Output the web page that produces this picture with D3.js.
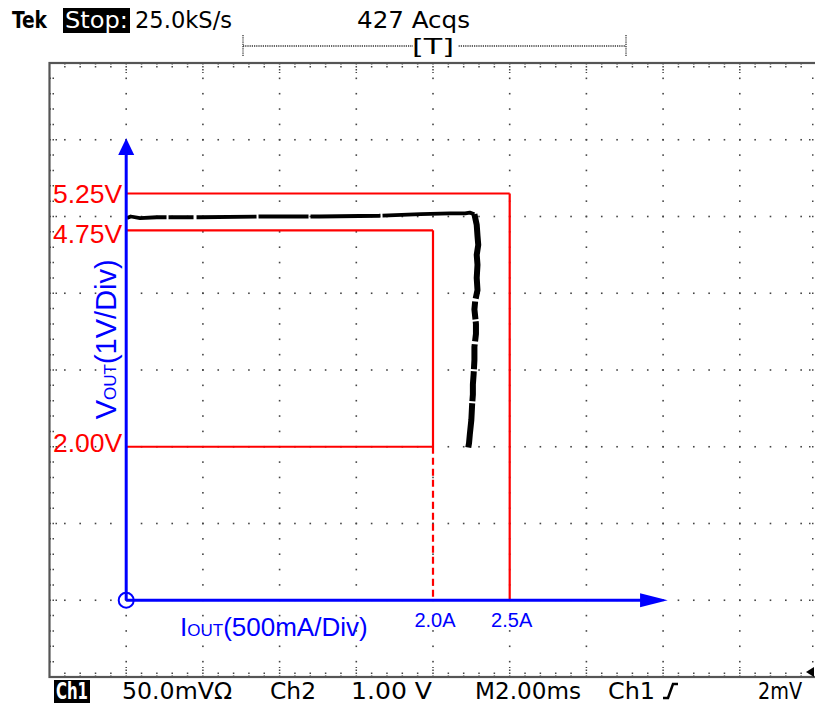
<!DOCTYPE html>
<html>
<head>
<meta charset="utf-8">
<script src="https://cdn.jsdelivr.net/npm/d3@7"></script>
<style>
  body { margin: 0; background: #fff; }
  svg { display: block; }
  .scope { font-family: "DejaVu Sans Condensed", "DejaVu Sans", sans-serif; font-stretch: condensed; }
  .anno { font-family: "Liberation Sans", Arial, sans-serif; }
</style>
</head>
<body>
<svg id="chart" width="815" height="703"></svg>
<script>
// graticule
const divsX = 10;
const divsY = 8;
const minorPerDiv = 5;

// scope readouts (top and bottom rows)
const headerTexts = ['Tek', 'Stop:', '25.0kS/s', '427 Acqs'];
const footerTexts = ['Ch1', '50.0mVΩ', 'Ch2', '1.00 V', 'M2.00ms', 'Ch1', '2mV'];

// annotation: current axis marks (A) and voltage limits (V)
const currentLabels = ['2.0A', '2.5A'];
const currentValues = [2.0, 2.5];
const voltLabels = ['5.25V', '4.75V', '2.00V'];
const voltLevels = [5.30, 4.82, 2.00]; // where the lines sit in the picture

// captured trace, [I (A), Vout (V)]
const traceTop = [
  [0.005, 4.98], [0.03, 5.00], [0.09, 4.98], [0.2, 4.99], [0.48, 4.99],
  [0.87, 5.00], [1.26, 5.00], [1.65, 5.01], [1.92, 5.03], [2.11, 5.04],
  [2.21, 5.04], [2.24, 5.05], [2.27, 5.03]
];
const traceSide = [
  [2.27, 5.03], [2.285, 4.89], [2.29, 4.75], [2.295, 4.63], [2.285, 4.5],
  [2.29, 4.37], [2.285, 4.2], [2.29, 4.04], [2.275, 3.9], [2.27, 3.79],
  [2.28, 3.6], [2.28, 3.47], [2.27, 3.3], [2.27, 3.13], [2.265, 2.95],
  [2.26, 2.81], [2.26, 2.68], [2.255, 2.55], [2.25, 2.35], [2.24, 2.16],
  [2.235, 2.05], [2.23, 1.99]
];

const svg = d3.select('#chart');

// screen divisions
const gx = d3.scaleLinear().domain([0, divsX]).range([49.5, 816.5]);
const gy = d3.scaleLinear().domain([0, divsY]).range([63, 677]);
// 500mA/div with 0A on the 1st vertical line, 1V/div with 0V on the 7th horizontal line
const xA = d3.scaleLinear().domain([0, 0.5]).range([gx(1), gx(2)]);
const yV = d3.scaleLinear().domain([0, 1]).range([gy(7), gy(6)]);

const RED = '#ff0000';
const BLUE = '#0000ff';
const DOT = '#444';

// Graticule dots
const grid = svg.append('g').attr('fill', DOT);
const minorY = d3.range(0, divsY * minorPerDiv + 1).map((i) => i / minorPerDiv);
const minorX = d3.range(0, divsX * minorPerDiv + 1).map((i) => i / minorPerDiv);
d3.range(1, divsX).forEach((c) => {
  grid.selectAll(null)
    .data(minorY.slice(1, -1))
    .join('rect')
    .attr('x', gx(c) - 0.8)
    .attr('y', (d) => gy(d) - 0.8)
    .attr('width', 1.6)
    .attr('height', 1.6);
});
d3.range(1, divsY).forEach((r) => {
  grid.selectAll(null)
    .data(minorX.slice(1, -1))
    .join('rect')
    .attr('x', (d) => gx(d) - 0.8)
    .attr('y', gy(r) - 0.8)
    .attr('width', 1.6)
    .attr('height', 1.6);
});

// frame ticks
const ticks = svg.append('g')
  .attr('stroke', DOT)
  .attr('stroke-width', 1.5)
  .attr('stroke-dasharray', '1.5 1.5');
ticks.selectAll('.tt')
  .data(minorX.slice(1, -1))
  .join('line')
  .attr('x1', (d) => gx(d))
  .attr('x2', (d) => gx(d))
  .attr('y1', gy(0))
  .attr('y2', (d) => gy(0) + (Number.isInteger(d) ? 10 : 5));
ticks.selectAll('.tb')
  .data(minorX.slice(1, -1))
  .join('line')
  .attr('x1', (d) => gx(d))
  .attr('x2', (d) => gx(d))
  .attr('y1', gy(divsY))
  .attr('y2', (d) => gy(divsY) - (Number.isInteger(d) ? 10 : 5));
ticks.selectAll('.tl')
  .data(minorY.slice(1, -1))
  .join('line')
  .attr('y1', (d) => gy(d))
  .attr('y2', (d) => gy(d))
  .attr('x1', gx(0))
  .attr('x2', (d) => gx(0) + (Number.isInteger(d) ? 8 : 5));
ticks.selectAll('.tr')
  .data(minorY.slice(1, -1))
  .join('line')
  .attr('y1', (d) => gy(d))
  .attr('y2', (d) => gy(d))
  .attr('x1', gx(divsX))
  .attr('x2', (d) => gx(divsX) - (Number.isInteger(d) ? 8 : 5));

// frame
svg.append('rect')
  .attr('x', gx(0))
  .attr('y', gy(0))
  .attr('width', gx(divsX) - gx(0))
  .attr('height', gy(divsY) - gy(0))
  .attr('fill', 'none')
  .attr('stroke', '#555')
  .attr('stroke-width', 2.2);

// Red limit box lines
const limits = svg.append('g').attr('stroke', RED).attr('stroke-width', 2.2).attr('fill', 'none');
const seg = (x1, y1, x2, y2) =>
  limits.append('line').attr('x1', x1).attr('y1', y1).attr('x2', x2).attr('y2', y2);
// outer box: 5.25V / 2.5A
seg(xA(0), yV(voltLevels[0]), xA(currentValues[1]), yV(voltLevels[0]));
seg(xA(currentValues[1]), yV(voltLevels[0]), xA(currentValues[1]), yV(0));
// inner box: 4.75V .. 2.00V / 2.0A
seg(xA(0), yV(voltLevels[1]), xA(currentValues[0]), yV(voltLevels[1]));
seg(xA(currentValues[0]), yV(voltLevels[1]), xA(currentValues[0]), yV(voltLevels[2]));
seg(xA(0), yV(voltLevels[2]), xA(currentValues[0]), yV(voltLevels[2]));
seg(xA(currentValues[0]), yV(voltLevels[2]), xA(currentValues[0]), yV(0))
  .attr('stroke-dasharray', '7 4');

// Trace
const line = d3.line().x((d) => xA(d[0])).y((d) => yV(d[1])).curve(d3.curveLinear);
svg.append('path')
  .datum(traceTop)
  .attr('d', line)
  .attr('fill', 'none')
  .attr('stroke', '#000')
  .attr('stroke-width', 3.8)
  .attr('stroke-linejoin', 'round')
  .attr('stroke-dasharray', '40 2 25 3 60 2 50 2 70 2 200');
svg.append('path')
  .datum(traceSide)
  .attr('d', line)
  .attr('fill', 'none')
  .attr('stroke', '#000')
  .attr('stroke-width', 6)
  .attr('stroke-linejoin', 'round')
  .attr('stroke-dasharray', '85 3 18 2 20 3 25 2 30 2 200');

// Blue axes
const axes = svg.append('g');
axes.append('line')
  .attr('x1', xA(0)).attr('x2', xA(0))
  .attr('y1', yV(0)).attr('y2', yV(5.9))
  .attr('stroke', BLUE).attr('stroke-width', 3);
axes.append('path')
  .attr('d', `M${xA(0) - 8},${yV(5.8)} L${xA(0)},${yV(6.02)} L${xA(0) + 8},${yV(5.8)} Z`)
  .attr('fill', BLUE);
axes.append('line')
  .attr('x1', xA(0)).attr('x2', xA(3.4))
  .attr('y1', yV(0)).attr('y2', yV(0))
  .attr('stroke', BLUE).attr('stroke-width', 3);
axes.append('path')
  .attr('d', `M${xA(3.35)},${yV(0) - 7} L${xA(3.53)},${yV(0)} L${xA(3.35)},${yV(0) + 7} Z`)
  .attr('fill', BLUE);
axes.append('circle')
  .attr('cx', xA(0)).attr('cy', yV(0)).attr('r', 7.5)
  .attr('fill', 'none').attr('stroke', BLUE).attr('stroke-width', 2);

// Voltage labels
svg.append('g')
  .attr('class', 'anno')
  .selectAll('text')
  .data(voltLabels)
  .join('text')
  .attr('x', xA(0) - 4)
  .attr('y', (d, i) => yV(voltLevels[i]) + (i === 0 ? 9.5 : i === 1 ? 13 : 5))
  .attr('text-anchor', 'end')
  .attr('font-size', 26.5)
  .attr('fill', RED)
  .text((d) => d);

// Current labels
svg.append('g')
  .attr('class', 'anno')
  .selectAll('text')
  .data(currentLabels)
  .join('text')
  .attr('x', (d, i) => xA(currentValues[i]) + 2)
  .attr('y', yV(0) + 27)
  .attr('text-anchor', 'middle')
  .attr('font-size', 20)
  .attr('fill', BLUE)
  .text((d) => d);

// Axis titles
const xTitle = svg.append('text')
  .attr('class', 'anno')
  .attr('x', 180)
  .attr('y', yV(0) + 36)
  .attr('font-size', 26)
  .attr('fill', BLUE);
xTitle.append('tspan').text('I');
xTitle.append('tspan').attr('font-size', 17).text('OUT');
xTitle.append('tspan').text('(500mA/Div)');

const yTitle = svg.append('text')
  .attr('class', 'anno')
  .attr('transform', `translate(116, ${yV(3.4)}) rotate(-90)`)
  .attr('text-anchor', 'middle')
  .attr('font-size', 29)
  .attr('fill', BLUE);
yTitle.append('tspan').text('V');
yTitle.append('tspan').attr('font-size', 17).text('OUT');
yTitle.append('tspan').text('(1V/Div)');

// Header readout
const header = svg.append('g').attr('class', 'scope').attr('fill', '#000');
header.append('text')
  .attr('x', 12).attr('y', 28)
  .attr('font-size', 23).attr('font-weight', 'bold')
  .attr('textLength', 35).attr('lengthAdjust', 'spacingAndGlyphs')
  .text(headerTexts[0]);
header.append('rect')
  .attr('x', 63).attr('y', 8).attr('width', 67).attr('height', 25)
  .attr('fill', '#000');
header.append('text')
  .attr('x', 65).attr('y', 28)
  .attr('font-size', 23)
  .attr('fill', '#fff')
  .attr('textLength', 63).attr('lengthAdjust', 'spacingAndGlyphs')
  .text(headerTexts[1]);
header.append('text')
  .attr('x', 135).attr('y', 28)
  .attr('font-size', 23)
  .attr('textLength', 97).attr('lengthAdjust', 'spacingAndGlyphs')
  .text(headerTexts[2]);
header.append('text')
  .attr('x', 357).attr('y', 28)
  .attr('font-size', 23)
  .attr('textLength', 113).attr('lengthAdjust', 'spacingAndGlyphs')
  .text(headerTexts[3]);

// trigger position bracket
const bracket = header.append('g')
  .attr('stroke', '#333')
  .attr('stroke-width', 1.3)
  .attr('stroke-dasharray', '1.2 1');
bracket.append('line').attr('x1', 243).attr('x2', 626).attr('y1', 46).attr('y2', 46);
bracket.append('line').attr('x1', 243).attr('x2', 243).attr('y1', 35).attr('y2', 56);
bracket.append('line').attr('x1', 626).attr('x2', 626).attr('y1', 35).attr('y2', 56);
header.append('rect')
  .attr('x', 413).attr('y', 34).attr('width', 45).attr('height', 22)
  .attr('fill', '#fff');
header.append('text')
  .attr('x', gx(5)).attr('y', 54)
  .attr('text-anchor', 'middle')
  .attr('font-size', 22)
  .attr('textLength', 42).attr('lengthAdjust', 'spacingAndGlyphs')
  .text('[T]');

// Footer readout
const footer = svg.append('g').attr('class', 'scope').attr('fill', '#000');
footer.append('rect')
  .attr('x', 54).attr('y', 680).attr('width', 36).attr('height', 23)
  .attr('fill', '#000');
footer.append('text')
  .attr('x', 56).attr('y', 699)
  .attr('font-size', 23).attr('font-weight', 'bold')
  .attr('fill', '#fff')
  .attr('textLength', 32).attr('lengthAdjust', 'spacingAndGlyphs')
  .text(footerTexts[0]);
const footerPos = [[122, 110], [270, 46], [351, 81], [475, 106], [608, 47], [758, 44]];
footer.selectAll('.ft')
  .data(footerTexts.slice(1))
  .join('text')
  .attr('x', (d, i) => footerPos[i][0])
  .attr('y', 699)
  .attr('font-size', 23)
  .attr('textLength', (d, i) => footerPos[i][1])
  .attr('lengthAdjust', 'spacingAndGlyphs')
  .text((d) => d);
// rising edge symbol
footer.append('path')
  .attr('d', 'M663,698 L668,698 L673,684 L678,684')
  .attr('fill', 'none')
  .attr('stroke', '#000')
  .attr('stroke-width', 2.5);
// trigger level marker
footer.append('path')
  .attr('d', 'M806,672 L814,667 L814,677 Z')
  .attr('fill', '#000');
</script>
</body>
</html>
